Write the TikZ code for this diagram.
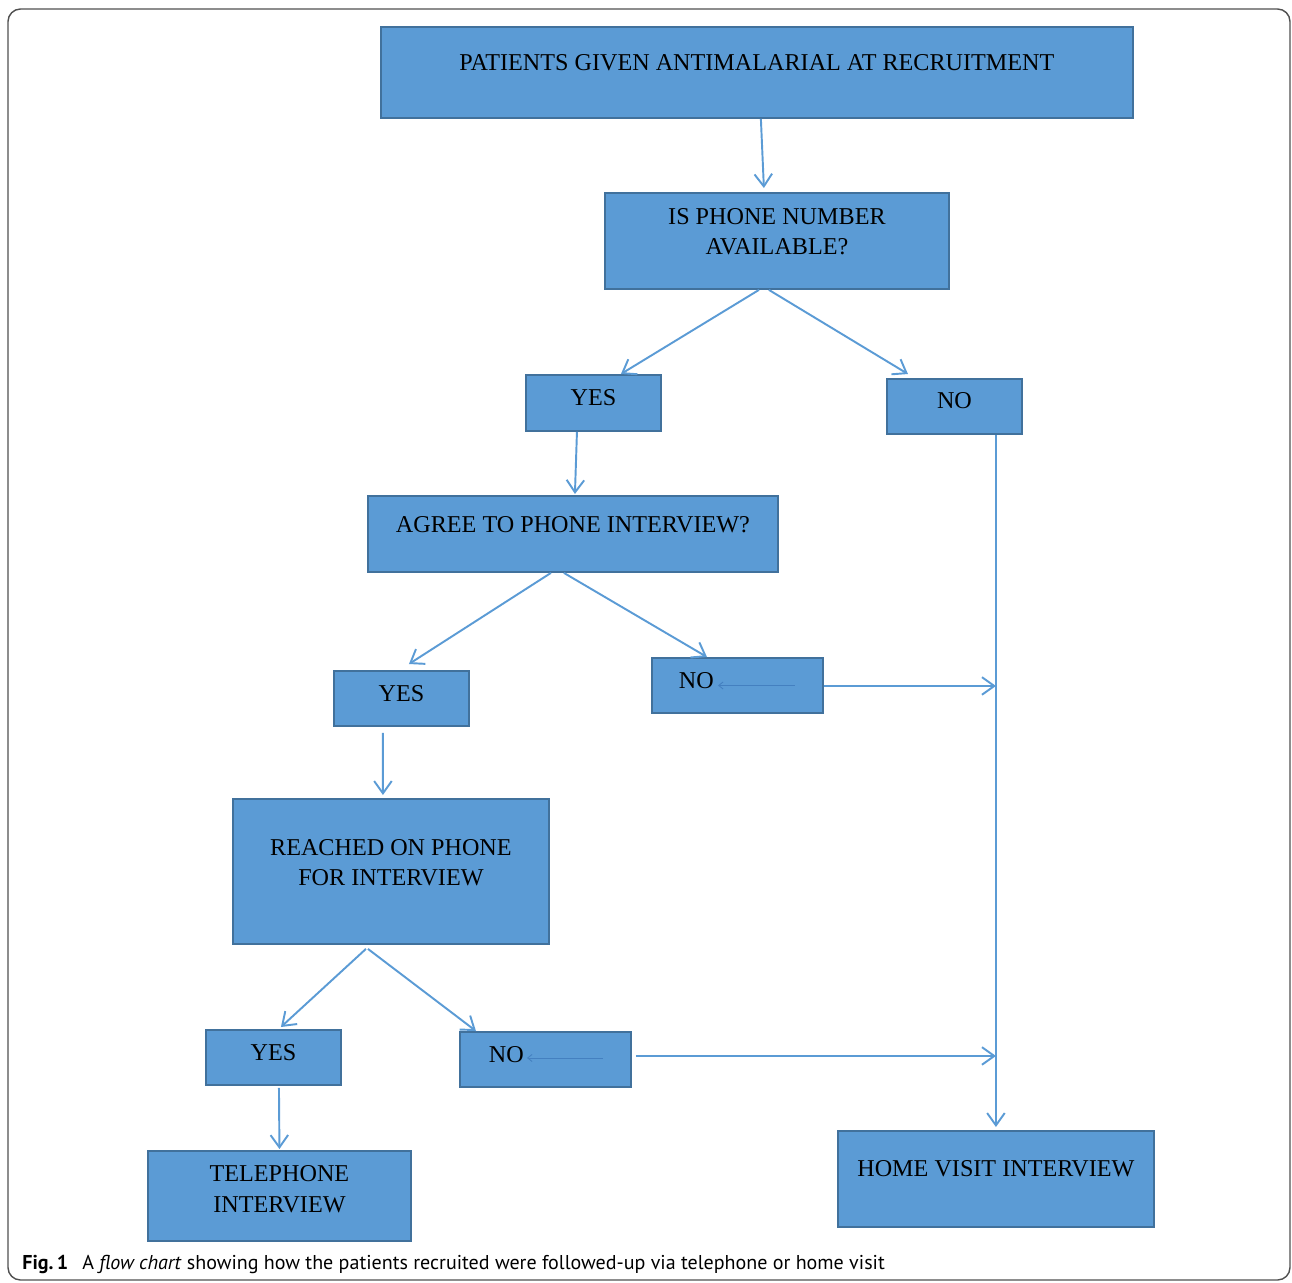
\documentclass[tikz,border=0pt]{standalone}
\usepackage{fontspec}
\setmainfont{Liberation Serif}
\newfontfamily\capfont{PT Sans}
\usetikzlibrary{arrows.meta}

\begin{document}
\begin{tikzpicture}[x=0.02cm,y=-0.02cm]
	\tikzstyle{every node}=[font=\fontsize{13.75}{17.5}\selectfont]
	\tikzstyle{box}=[draw={rgb,255:red,65; green,113; blue,156}, fill={rgb,255:red,91; green,155; blue,213}, line width=1.1pt, anchor=north west, inner sep=0pt, align=center]
	\tikzstyle{nobox}=[box, minimum width=3.42cm, minimum height=1.1cm, align=left, text depth=0.18cm]
	\tikzstyle{link}=[color={rgb,255:red,91; green,155; blue,213}, line width=1.1pt, -{Straight Barb[length=7pt,width=10pt]}]
	\tikzstyle{back}=[color={rgb,255:red,68; green,128; blue,192}, line width=0.5pt, -{Straight Barb[length=2.5pt,width=4pt]}]

	\useasboundingbox (0,0) rectangle (1292,1282);
	\draw [color={rgb,255:red,80; green,80; blue,80}, line width=0.8pt, rounded corners=0.25cm] (8,9) rectangle (1290,1280);

	% boxes
	\node [box, minimum width=15.04cm, minimum height=1.82cm, text depth=0.38cm] (given) at (380,26) {PATIENTS GIVEN ANTIMALARIAL AT RECRUITMENT};
	\node [box, minimum width=6.88cm, minimum height=1.92cm, text depth=0.38cm] (phone) at (604,192) {IS PHONE NUMBER\\AVAILABLE?};
	\node [box, minimum width=2.7cm, minimum height=1.12cm, text depth=0.2cm] (yesa) at (525,374) {YES};
	\node [box, minimum width=2.7cm, minimum height=1.1cm, text depth=0.22cm] (noa) at (886,378) {NO};
	\node [box, minimum width=8.2cm, minimum height=1.52cm, text depth=0.36cm] (agree) at (367,495) {AGREE TO PHONE INTERVIEW?};
	\node [box, minimum width=2.7cm, minimum height=1.1cm, text depth=0.18cm] (yesb) at (333,670) {YES};
	\node [nobox, text width=2.34cm, inner xsep=0.54cm] (nob) at (651,657) {NO};
	\node [box, minimum width=6.32cm, minimum height=2.9cm, text depth=0.36cm] (reached) at (232,798) {REACHED ON PHONE\\FOR INTERVIEW};
	\node [box, minimum width=2.7cm, minimum height=1.1cm, text depth=0.18cm] (yesc) at (205,1029) {YES};
	\node [nobox, text width=2.26cm, inner xsep=0.58cm] (noc) at (459,1031) {NO};
	\node [box, minimum width=5.26cm, minimum height=1.8cm, text depth=0.28cm] (tele) at (147,1150) {TELEPHONE\\INTERVIEW};
	\node [box, minimum width=6.32cm, minimum height=1.92cm, text depth=0.4cm] (home) at (837,1130) {HOME VISIT INTERVIEW};

	% small arrows inside the NO boxes
	\draw [back] ([xshift=-0.58cm]nob.east) -- ([xshift=1.34cm]nob.west);
	\draw [back] ([xshift=-0.58cm,yshift=0.03cm]noc.east) -- ([xshift=1.36cm,yshift=0.03cm]noc.west);

	% connectors
	\draw [link] ([xshift=0.08cm]given.south) -- ([xshift=0.14cm,yshift=0.08cm]given.south |- phone.north);
	\draw [link] ([xshift=-0.36cm]phone.south) -- ([xshift=0.55cm]yesa.north);
	\draw [link] ([xshift=-0.16cm]phone.south) -- ([xshift=-0.93cm,yshift=0.08cm]noa.north);
	\draw [link] ([xshift=-0.33cm]yesa.south) -- ([xshift=0.04cm,yshift=0.02cm]agree.north);
	\draw [link] ([xshift=-0.44cm]agree.south) -- ([xshift=0.15cm,yshift=0.12cm]yesb.north);
	\draw [link] ([xshift=-0.18cm]agree.south) -- ([xshift=-0.61cm]nob.north);
	\draw [link] ([xshift=-0.37cm,yshift=-0.12cm]yesb.south) -- ([xshift=-0.16cm,yshift=0.06cm]reached.north);
	\draw [link] ([xshift=-0.5cm,yshift=-0.08cm]reached.south) -- ([xshift=0.15cm,yshift=0.04cm]yesc.north);
	\draw [link] ([xshift=-0.46cm,yshift=-0.08cm]reached.south) -- ([xshift=-1.39cm]noc.north);
	\draw [link] ([xshift=0.11cm,yshift=-0.04cm]yesc.south) -- ([yshift=0.02cm]tele.north);
	\draw [link] (noa.south -| home.north) -- ([yshift=0.06cm]home.north);
	\coordinate (jb) at (nob.east -| home.north);
	\coordinate (jc) at (noc.east -| home.north);
	\draw [link] ([yshift=-0.01cm]nob.east) -- ([yshift=-0.01cm]jb);
	\draw [link] ([xshift=0.08cm,yshift=0.07cm]noc.east) -- ([yshift=0.07cm]jc);

	% caption
	\node [anchor=base west, inner sep=0pt, font=\capfont\fontsize{11.4}{13}\selectfont] (caption) at (22,1269) {\textbf{Fig.\,1}\hspace{0.7em}A \textit{flow chart} showing how the patients recruited were followed-up via telephone or home visit};
\end{tikzpicture}
\end{document}
